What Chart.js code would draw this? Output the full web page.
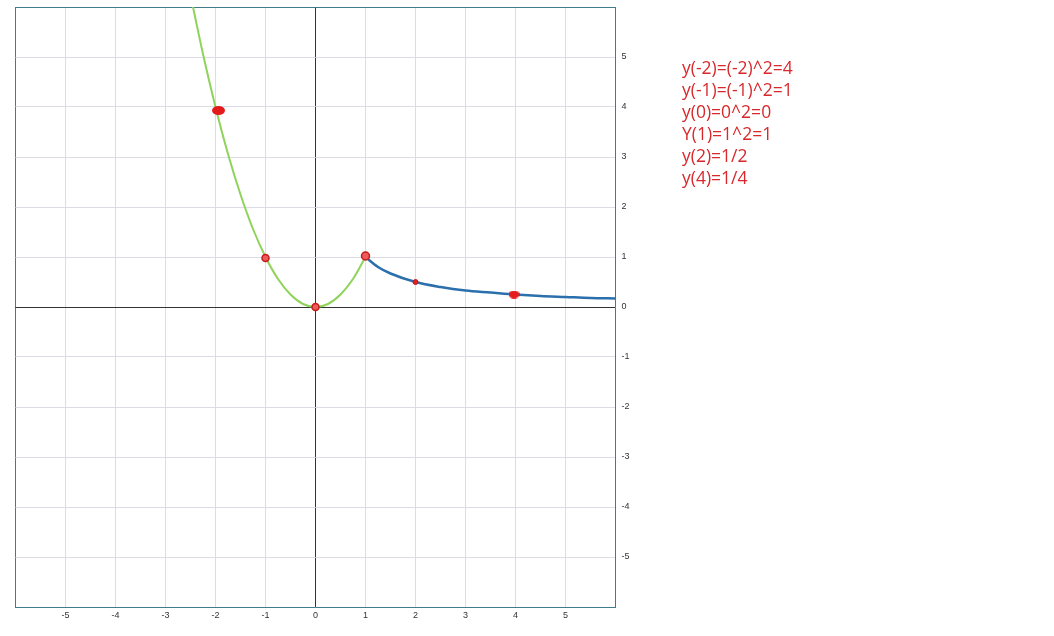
<!DOCTYPE html>
<html>
<head>
<meta charset="utf-8">
<script src="https://cdn.jsdelivr.net/npm/chart.js@4.4.0/dist/chart.umd.min.js"></script>
<style>
  html, body { margin: 0; padding: 0; background: #fff; }
  #wrap { position: relative; width: 1054px; height: 636px; }
  #notes {
    position: absolute; left: 682px; top: 56px;
    font-family: "Open Sans", sans-serif; font-size: 17.5px; line-height: 22px;
    color: #d8282c;
  }
</style>
</head>
<body>
<div id="wrap">
  <canvas id="graph" width="1054" height="636"></canvas>
  <div id="notes"></div>
</div>
<script>
// parabola part (x <= 1)
const greenX = [-2.45, -2.25, -2, -1.75, -1.5, -1.25, -1, -0.75, -0.5, -0.25, 0, 0.25, 0.5, 0.75, 1];
const greenY = [6, 5.06, 4, 3.06, 2.25, 1.56, 1, 0.56, 0.25, 0.06, 0, 0.06, 0.25, 0.56, 1];
// hyperbola part (x >= 1)
const blueX = [1, 1.25, 1.5, 2, 2.5, 3, 3.5, 4, 4.5, 5, 5.5, 6];
const blueY = [1, 0.8, 0.67, 0.5, 0.4, 0.33, 0.29, 0.25, 0.22, 0.2, 0.18, 0.17];
// marked points (hand-placed dots, slightly off in the picture)
const markX = [-1.94, -1, 0, 1, 2, 3.97];
const markY = [3.93, 0.98, 0, 1.02, 0.5, 0.25];
// axis ticks
const tickValues = [-6, -5, -4, -3, -2, -1, 0, 1, 2, 3, 4, 5, 6];
const notes = ['y(-2)=(-2)^2=4', 'y(-1)=(-1)^2=1', 'y(0)=0^2=0', 'Y(1)=1^2=1', 'y(2)=1/2', 'y(4)=1/4'];

document.querySelector('#notes').innerHTML = notes.map(t => `<div>${t}</div>`).join('');

const toPoints = (xs, ys) => xs.map((x, i) => ({ x: x, y: ys[i] }));

// ellipse marker for the two wide dots
const ellipse = (w, h) => {
    const c = document.createElement('canvas');
    c.width = w; c.height = h;
    const g = c.getContext('2d');
    g.fillStyle = '#e31b1b';
    g.beginPath();
    g.ellipse(w / 2, h / 2, w / 2, h / 2, 0, 0, Math.PI * 2);
    g.fill();
    return c;
};
const wide1 = ellipse(13, 9);
const wide2 = ellipse(11, 8);

const borderColor = '#3e7c8e';
const gridColor = (edge) => (ctx) => {
    if (!ctx.tick) return '#dcdce6';
    if (ctx.tick.value === 0) return '#333';
    if (ctx.tick.value === edge) return borderColor;
    return '#dcdce6';
};

const tickFont = { family: 'Liberation Sans, Arial', size: 9 };

let myChart = new Chart(document.querySelector('#graph'), {
    type: 'scatter',
    data: {
        datasets: [
            {
                data: toPoints(markX, markY),
                showLine: false,
                pointStyle: [wide1, 'circle', 'circle', 'circle', 'circle', wide2],
                pointRadius: [6, 3.5, 3.5, 4, 2.5, 5],
                pointBackgroundColor: ['#e31b1b', '#ec5a5a', '#ec5a5a', '#ec5a5a', '#e02020', '#e31b1b'],
                pointBorderColor: '#c41a1a',
                pointBorderWidth: [0, 1.5, 1.5, 1.5, 1, 0],
                order: 0,
            },
            {
                data: toPoints(greenX, greenY),
                showLine: true,
                borderColor: '#8fd35a',
                borderWidth: 2,
                pointRadius: 0,
                cubicInterpolationMode: 'monotone',
                order: 1,
            },
            {
                data: toPoints(blueX, blueY),
                showLine: true,
                borderColor: '#2b6fad',
                borderWidth: 2.5,
                pointRadius: 0,
                cubicInterpolationMode: 'monotone',
                order: 1,
            },
        ],
    },
    options: {
        responsive: false,
        animation: false,
        layout: { padding: { left: 15.5, top: 7 } },
        plugins: { legend: { display: false }, tooltip: false },
        scales: {
            x: {
                type: 'linear', min: -6, max: 6,
                afterBuildTicks: (s) => { s.ticks = tickValues.map(v => ({ value: v })); },
                afterFit: (s) => { s.height = 29; s.paddingLeft = 0; s.paddingRight = 0; },
                grid: { color: gridColor(-6), drawTicks: false },
                border: { color: borderColor, width: 1 },
                ticks: {
                    padding: 3, color: '#333', font: tickFont,
                    callback: (v) => (Math.abs(v) === 6 ? '' : v),
                },
            },
            y: {
                type: 'linear', position: 'right', min: -6, max: 6,
                afterBuildTicks: (s) => { s.ticks = tickValues.map(v => ({ value: v })); },
                afterFit: (s) => { s.width = 438.5; s.paddingTop = 0; s.paddingBottom = 0; },
                grid: { color: gridColor(6), drawTicks: false },
                border: { color: borderColor, width: 1 },
                ticks: {
                    padding: 6, color: '#333', font: tickFont,
                    callback: (v) => (Math.abs(v) === 6 ? '' : v),
                },
            },
        },
    },
});
</script>
</body>
</html>
